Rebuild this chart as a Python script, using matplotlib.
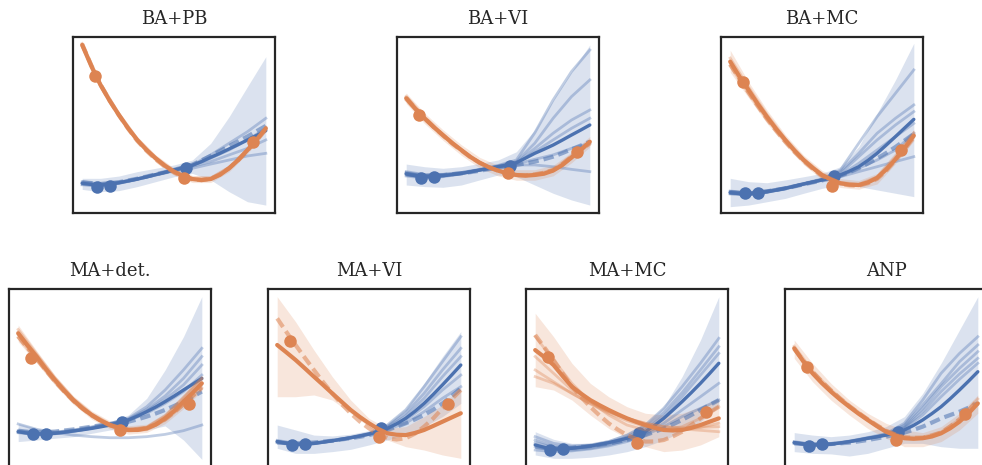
import matplotlib
matplotlib.use('Agg')
import matplotlib.pyplot as plt

plt.rcParams['font.family'] = ['DejaVu Serif']

BLUE = '#4C72B0'
ORANGE = '#DD8452'

# coarse grid for bands / posterior samples, fine grid for means and targets
x_grid = [-1.0, -0.8, -0.6, -0.4, -0.2, 0.0, 0.2, 0.4, 0.6, 0.8, 1.0]
x_fine = [-1.0, -0.9, -0.8, -0.7, -0.6, -0.5, -0.4, -0.3, -0.2, -0.1, 0.0,
          0.1, 0.2, 0.3, 0.4, 0.5, 0.6, 0.7, 0.8, 0.9, 1.0]
ctx_x_blue = [-0.84, -0.70, 0.13]
ctx_x_orange = [-0.86, 0.11, 0.86]

titles = ['BA+PB', 'BA+VI', 'BA+MC', 'MA+det.', 'MA+VI', 'MA+MC', 'ANP']

# --- BA+PB ---
pb_blue_mean = [16.9, 16.2, 15.9, 16.4, 17.2, 18.2, 19.3, 20.5, 21.8, 23.1, 24.4,
                25.7, 27.1, 29.2, 31.6, 33.9, 36.4, 38.9, 41.5, 44.1, 46.8]
pb_blue_dash = [17.5, 17.0, 16.5, 17.0, 17.5, 18.5, 19.5, 20.7, 22.0, 23.2, 24.5,
                26.0, 27.5, 29.9, 32.5, 35.2, 38.0, 40.7, 43.5, 46.5, 49.5]
pb_blue_lo = [13.4, 12.1, 12.7, 15.0, 17.8, 20.6, 22.5, 18.8, 12.1, 6.4, 4.5]
pb_blue_hi = [19.7, 19.7, 21.0, 23.5, 25.4, 27.3, 30.1, 39.6, 54.7, 71.8, 88.8]
pb_blue_samples = [
    [17.8, 16.5, 17.6, 19.6, 22.0, 24.6, 27.3, 33.0, 39.6, 46.2, 53.8],
    [16.2, 15.4, 16.8, 19.0, 21.6, 24.2, 26.9, 31.1, 35.8, 41.5, 48.1],
    [17.2, 16.3, 17.4, 19.4, 21.8, 24.2, 26.5, 29.2, 33.0, 36.7, 41.5],
    [16.0, 15.5, 16.9, 19.1, 21.5, 23.8, 25.4, 27.8, 30.1, 32.4, 33.9],
]
pb_blue_ctx = [15.0, 15.5, 25.4]
pb_orange_mean = [95.5, 83.4, 72.7, 63.7, 55.7, 48.2, 41.5, 35.9, 31.1, 26.9, 23.5,
                  20.9, 19.3, 18.7, 19.3, 21.7, 25.4, 30.1, 35.8, 41.6, 48.1]
pb_orange_dash = [96.0, 83.8, 73.0, 63.8, 55.5, 47.9, 41.0, 35.4, 30.5, 26.4, 23.0,
                  20.6, 19.0, 18.7, 19.5, 21.9, 25.5, 30.1, 35.5, 41.2, 47.5]
pb_orange_lo = [93.5, 70.7, 53.7, 39.5, 29.1, 21.5, 17.3, 17.3, 23.4, 33.8, 46.1]
pb_orange_hi = [97.5, 74.7, 57.7, 43.5, 33.1, 25.5, 21.3, 21.3, 27.4, 37.8, 50.1]
pb_orange_samples = [
    [94.5, 72.0, 55.0, 41.0, 30.8, 23.2, 19.0, 19.0, 25.0, 35.2, 47.5],
    [96.3, 73.4, 56.4, 42.0, 31.5, 24.0, 19.8, 19.8, 25.9, 36.3, 48.8],
]
pb_orange_ctx = [77.8, 19.9, 40.5]

# --- BA+VI ---
vi_blue_mean = [22.2, 21.2, 20.6, 20.8, 21.2, 21.8, 22.5, 23.4, 24.4, 25.3, 26.3,
                27.3, 28.6, 31.2, 33.9, 36.2, 38.6, 41.4, 44.3, 47.1, 50.0]
vi_blue_dash = [22.0, 21.4, 21.0, 21.2, 21.5, 22.0, 22.5, 23.2, 24.0, 24.9, 25.8,
                26.5, 27.3, 28.2, 29.2, 30.5, 32.0, 34.0, 36.2, 38.3, 40.5]
vi_blue_lo = [15.9, 15.0, 14.6, 15.9, 18.8, 21.6, 20.6, 15.9, 11.2, 7.4, 4.5]
vi_blue_hi = [27.8, 26.3, 25.4, 26.3, 28.2, 30.1, 34.8, 47.2, 64.2, 80.3, 95.5]
vi_blue_samples = [
    [23.5, 21.8, 22.0, 23.0, 24.8, 27.0, 30.1, 45.5, 64.2, 80.3, 92.6],
    [21.0, 19.8, 20.6, 22.2, 24.4, 26.8, 29.2, 39.6, 53.8, 66.1, 75.6],
    [22.8, 21.0, 21.4, 22.6, 24.5, 26.5, 28.6, 36.7, 45.3, 52.8, 58.5],
    [21.6, 20.4, 21.0, 22.4, 24.2, 26.2, 28.2, 34.8, 41.5, 48.1, 53.8],
    [22.5, 20.9, 21.3, 22.5, 24.3, 26.0, 27.8, 30.5, 33.0, 36.7, 39.6],
    [23.0, 21.5, 21.8, 23.0, 24.6, 26.0, 27.3, 27.3, 26.3, 24.8, 23.5],
]
vi_blue_ctx = [20.1, 20.6, 26.9]
vi_orange_mean = [65.2, 59.2, 53.8, 48.8, 44.3, 39.8, 35.8, 31.8, 28.6, 26.0, 24.1,
                  22.5, 21.6, 21.2, 21.6, 22.3, 24.1, 27.2, 31.5, 35.8, 40.5]
vi_orange_dash = [65.5, 59.4, 54.0, 48.8, 44.0, 39.5, 35.5, 31.7, 28.5, 26.0, 24.0,
                  22.5, 21.5, 21.4, 22.0, 22.9, 24.5, 27.8, 32.0, 35.7, 39.5]
vi_orange_lo = [62.2, 50.8, 41.3, 32.8, 25.6, 21.1, 18.6, 18.6, 21.1, 28.5, 37.5]
vi_orange_hi = [68.2, 56.8, 47.3, 38.8, 31.6, 27.1, 24.6, 24.6, 27.1, 34.5, 43.5]
vi_orange_samples = [
    [64.0, 53.0, 43.8, 35.5, 28.6, 24.3, 22.0, 22.0, 24.5, 32.5, 40.5],
    [66.3, 54.6, 44.8, 36.1, 28.7, 24.0, 21.3, 21.3, 23.8, 31.0, 39.3],
]
vi_orange_ctx = [55.7, 22.9, 34.8]

# --- BA+MC ---
mc_blue_mean = [11.6, 11.0, 10.8, 11.4, 12.1, 13.0, 14.0, 15.2, 16.5, 17.6, 18.8,
                20.1, 21.6, 23.8, 26.3, 29.9, 33.9, 38.6, 43.4, 48.3, 53.2]
mc_blue_dash = [11.8, 11.4, 11.2, 11.7, 12.3, 13.1, 14.0, 15.1, 16.3, 17.4, 18.5,
                19.8, 21.2, 23.2, 25.5, 28.1, 31.0, 34.1, 37.5, 41.2, 45.0]
mc_blue_lo = [3.6, 4.5, 6.4, 8.3, 11.2, 14.0, 15.9, 15.0, 13.1, 11.2, 9.3]
mc_blue_hi = [19.7, 17.8, 17.2, 18.8, 20.6, 22.5, 26.3, 37.7, 56.6, 75.6, 96.4]
mc_blue_samples = [
    [12.5, 11.5, 12.6, 14.4, 16.8, 19.4, 24.4, 39.6, 54.7, 68.0, 81.3],
    [10.8, 10.2, 11.7, 13.8, 16.4, 19.1, 23.5, 33.9, 45.3, 53.8, 61.4],
    [12.0, 11.2, 12.4, 14.2, 16.6, 19.0, 22.5, 32.0, 41.5, 50.0, 57.6],
    [11.2, 10.6, 11.9, 13.9, 16.4, 18.7, 21.6, 28.2, 35.8, 43.4, 50.9],
    [12.2, 11.3, 12.5, 14.3, 16.6, 18.8, 21.0, 25.4, 30.1, 35.8, 45.3],
    [11.0, 10.5, 11.8, 13.7, 16.1, 18.5, 20.6, 23.5, 26.3, 29.2, 32.0],
]
mc_blue_ctx = [11.2, 11.6, 21.0]
mc_orange_mean = [86.0, 77.6, 69.9, 62.0, 54.7, 47.8, 41.5, 35.5, 30.1, 25.6, 21.6,
                  19.0, 16.9, 16.1, 15.9, 17.4, 20.0, 24.8, 30.5, 37.0, 44.0]
mc_orange_dash = [84.5, 76.3, 68.5, 60.8, 53.5, 46.8, 40.5, 34.7, 29.5, 25.0, 21.0,
                  18.5, 16.5, 15.7, 15.5, 16.9, 19.4, 24.0, 30.0, 36.2, 43.0]
mc_orange_lo = [80.0, 65.5, 51.0, 38.5, 27.5, 19.0, 14.5, 13.5, 16.5, 28.0, 41.0]
mc_orange_hi = [92.5, 74.5, 58.5, 44.5, 32.8, 24.2, 19.5, 18.5, 22.5, 34.5, 47.5]
mc_orange_samples = [
    [88.0, 71.5, 56.0, 42.3, 30.8, 22.2, 17.4, 16.4, 20.5, 32.0, 45.6],
    [83.5, 68.0, 53.3, 40.5, 29.4, 21.1, 16.5, 15.5, 19.4, 30.3, 43.2],
]
mc_orange_ctx = [74.6, 15.5, 35.8]

# --- MA+det. ---
md_blue_mean = [18.9, 18.1, 17.6, 17.7, 18.0, 18.6, 19.3, 20.0, 20.8, 21.7, 22.7,
                24.0, 25.6, 27.8, 30.3, 33.0, 36.0, 39.2, 42.6, 45.9, 49.2]
md_blue_dash = [19.5, 18.9, 18.5, 18.7, 19.0, 19.6, 20.2, 21.0, 21.8, 22.6, 23.3,
                23.9, 24.6, 25.9, 27.5, 29.3, 31.3, 33.6, 36.0, 38.8, 41.7]
md_blue_lo = [13.3, 14.2, 15.2, 16.1, 18.0, 19.9, 20.8, 19.9, 22.2, 14.2, 3.2]
md_blue_hi = [23.7, 20.8, 19.9, 20.8, 22.7, 24.6, 28.4, 37.9, 54.0, 72.9, 95.6]
md_blue_samples = [
    [23.3, 20.3, 18.4, 17.0, 16.1, 15.5, 15.5, 16.1, 17.4, 19.5, 22.7],
    [19.5, 18.2, 18.6, 19.9, 21.6, 23.6, 26.5, 33.1, 42.6, 54.0, 66.3],
    [18.3, 17.2, 17.7, 19.1, 20.9, 23.1, 26.1, 31.6, 39.2, 49.2, 61.6],
    [19.2, 17.9, 18.3, 19.6, 21.3, 23.3, 25.6, 30.9, 37.3, 45.5, 56.8],
    [18.6, 17.4, 17.9, 19.2, 20.9, 22.9, 25.2, 29.4, 35.0, 41.7, 51.1],
]
md_blue_ctx = [17.4, 17.6, 24.6]
md_orange_mean = [74.8, 68.0, 61.6, 54.6, 48.3, 42.3, 36.9, 32.2, 28.4, 25.2, 22.7,
                  20.9, 19.9, 19.9, 20.8, 23.0, 26.5, 30.7, 36.0, 41.0, 46.4]
md_orange_dash = [73.0, 66.6, 60.5, 53.9, 47.5, 41.8, 36.5, 32.1, 28.2, 25.1, 22.5,
                  20.9, 20.0, 20.1, 21.0, 23.1, 26.0, 29.9, 34.5, 39.1, 44.0]
md_orange_lo = [70.0, 58.0, 45.5, 34.5, 26.0, 20.5, 17.5, 18.5, 23.5, 32.0, 42.0]
md_orange_hi = [79.5, 65.0, 51.0, 39.3, 30.8, 25.0, 22.3, 23.2, 29.5, 40.0, 50.5]
md_orange_samples = [
    [77.0, 63.2, 49.6, 37.8, 29.1, 23.3, 20.4, 21.4, 27.5, 37.8, 48.8],
    [72.5, 59.8, 47.0, 36.0, 27.7, 22.1, 19.3, 20.0, 25.3, 34.0, 43.8],
    [75.5, 62.5, 49.0, 37.4, 28.8, 23.0, 20.3, 21.5, 28.0, 38.5, 49.5],
]
md_orange_ctx = [60.6, 19.9, 34.7]

# --- MA+VI ---
mv_blue_mean = [13.3, 12.3, 11.7, 11.9, 12.3, 13.0, 13.8, 14.6, 15.5, 16.5, 17.6,
                19.0, 20.8, 23.4, 26.5, 30.5, 35.0, 40.1, 45.5, 51.1, 56.8]
mv_blue_dash = [12.8, 12.5, 12.3, 12.5, 12.8, 13.3, 13.8, 14.5, 15.2, 16.0, 17.0,
                18.3, 19.9, 21.7, 23.7, 25.9, 28.4, 31.5, 35.0, 39.1, 43.6]
mv_blue_lo = [9.5, 6.6, 6.6, 7.6, 8.9, 11.4, 14.2, 17.0, 21.8, 27.5, 35.0]
mv_blue_hi = [22.7, 19.9, 17.0, 16.5, 17.5, 19.5, 23.5, 32.0, 46.4, 61.6, 75.8]
mv_blue_samples = [
    [14.0, 12.2, 12.6, 14.0, 15.8, 18.0, 22.7, 31.3, 44.5, 58.7, 72.9],
    [12.6, 11.3, 12.0, 13.6, 15.4, 17.6, 21.8, 29.4, 40.7, 54.0, 66.3],
    [13.6, 11.9, 12.4, 13.9, 15.6, 17.7, 21.4, 27.8, 37.9, 50.2, 61.6],
    [12.9, 11.5, 12.1, 13.6, 15.3, 17.4, 20.8, 25.6, 33.1, 42.6, 51.1],
    [13.2, 11.8, 12.3, 13.7, 15.4, 17.2, 20.3, 23.7, 30.3, 37.9, 44.5],
]
mv_blue_ctx = [11.4, 11.9, 20.8]
mv_orange_mean = [68.2, 64.0, 59.7, 55.0, 50.2, 45.5, 40.7, 36.0, 31.3, 27.3, 23.7,
                  20.5, 18.0, 17.2, 17.0, 18.2, 19.9, 22.2, 24.6, 27.0, 29.4]
mv_orange_dash = [83.3, 75.6, 68.2, 61.0, 54.0, 47.1, 40.7, 34.7, 29.4, 24.7, 20.8,
                  17.6, 15.2, 14.5, 15.2, 17.8, 21.8, 26.5, 32.2, 37.4, 42.6]
mv_orange_lo = [38.8, 38.8, 39.8, 36.9, 29.4, 21.8, 14.2, 10.4, 8.5, 5.7, 3.8]
mv_orange_hi = [95.6, 81.4, 65.3, 50.2, 36.9, 26.5, 20.8, 21.8, 27.5, 34.1, 44.0]
mv_orange_samples = []
mv_orange_ctx = [70.6, 15.7, 34.7]

# --- MA+MC ---
mm_blue_mean = [11.4, 10.0, 9.1, 9.2, 9.5, 10.1, 10.8, 11.7, 12.7, 13.9, 15.2,
                16.8, 18.9, 22.5, 26.5, 31.2, 36.0, 41.1, 46.4, 52.0, 57.8]
mm_blue_dash = [10.4, 9.7, 9.3, 9.5, 9.8, 10.3, 10.8, 11.5, 12.3, 13.2, 14.2,
                15.5, 17.0, 18.8, 20.8, 23.1, 25.6, 28.4, 31.3, 34.1, 36.9]
mm_blue_lo = [5.7, 3.8, 3.8, 4.4, 5.7, 7.6, 10.4, 14.2, 18.9, 24.6, 33.1]
mm_blue_hi = [18.9, 14.6, 12.3, 12.3, 14.5, 18.0, 23.5, 33.1, 50.2, 71.0, 95.6]
mm_blue_samples = [
    [16.1, 12.3, 10.8, 11.4, 13.3, 17.0, 22.7, 32.2, 44.5, 57.8, 72.0],
    [14.2, 10.8, 10.0, 10.8, 12.7, 15.9, 21.2, 29.7, 41.1, 54.0, 67.2],
    [12.7, 10.0, 9.5, 10.4, 12.3, 15.2, 19.9, 27.8, 38.8, 51.1, 63.4],
    [10.4, 8.5, 8.5, 9.5, 11.4, 14.2, 18.0, 23.7, 31.3, 38.8, 46.4],
    [8.5, 7.6, 8.0, 9.1, 10.8, 13.3, 17.0, 21.8, 27.5, 32.2, 36.9],
]
mm_blue_ctx = [8.5, 9.1, 18.4]
mm_orange_mean = [65.3, 61.3, 56.8, 50.5, 44.5, 40.5, 36.9, 34.0, 31.3, 28.8, 26.5,
                  24.5, 22.7, 21.2, 19.9, 19.6, 19.9, 21.1, 22.7, 24.6, 26.5]
mm_orange_dash = [73.9, 66.8, 59.7, 52.0, 44.5, 38.6, 33.1, 28.2, 23.7, 20.1, 17.0,
                  14.8, 13.3, 13.4, 14.2, 16.3, 18.9, 22.6, 26.5, 29.9, 33.1]
mm_orange_lo = [44.5, 42.6, 36.9, 28.4, 20.8, 15.2, 10.4, 7.6, 8.5, 11.4, 16.1]
mm_orange_hi = [86.2, 72.9, 57.8, 46.4, 38.8, 33.1, 29.4, 28.4, 29.4, 33.1, 37.9]
mm_orange_samples = [
    [73.0, 59.7, 46.4, 36.0, 28.4, 22.7, 19.9, 19.9, 21.8, 26.5, 33.1],
    [61.6, 52.1, 42.6, 36.0, 30.3, 26.5, 23.7, 21.8, 21.2, 21.4, 21.8],
    [54.0, 47.3, 40.7, 35.0, 30.3, 26.5, 23.7, 21.8, 20.5, 19.7, 18.9],
    [50.2, 46.4, 40.7, 34.7, 29.4, 25.2, 21.8, 19.9, 19.9, 21.4, 23.7],
]
mm_orange_ctx = [61.2, 12.7, 29.9]

# --- ANP ---
an_blue_mean = [12.7, 11.9, 11.4, 11.6, 11.9, 12.5, 13.3, 14.2, 15.2, 16.0, 17.0,
                18.3, 19.9, 22.5, 25.6, 29.2, 33.1, 37.7, 42.6, 47.7, 53.0]
an_blue_dash = [12.3, 11.9, 11.7, 11.8, 11.9, 12.3, 12.7, 13.4, 14.2, 15.1, 16.1,
                17.2, 18.4, 20.0, 21.8, 24.1, 26.5, 28.4, 30.3, 32.6, 35.0]
an_blue_lo = [7.6, 6.6, 6.3, 5.1, 6.6, 9.5, 12.3, 12.3, 10.4, 9.5, 9.5]
an_blue_hi = [18.4, 17.0, 16.1, 17.0, 18.9, 21.8, 27.5, 40.7, 57.8, 76.7, 95.6]
an_blue_samples = [
    [13.3, 11.8, 12.2, 13.6, 15.6, 17.8, 23.7, 36.9, 52.1, 63.4, 72.9],
    [12.2, 11.0, 11.6, 13.0, 14.9, 17.2, 22.7, 34.1, 46.2, 58.7, 68.2],
    [13.0, 11.6, 12.0, 13.4, 15.3, 17.4, 21.8, 32.2, 44.5, 54.9, 64.4],
    [12.4, 11.2, 11.7, 13.1, 15.0, 17.0, 21.2, 30.3, 41.7, 51.7, 60.6],
    [12.9, 11.5, 11.9, 13.2, 15.1, 16.9, 20.8, 28.4, 38.8, 48.7, 57.8],
]
an_blue_ctx = [10.8, 11.7, 18.9]
an_orange_mean = [66.3, 58.8, 52.1, 46.6, 41.7, 37.2, 33.1, 29.2, 25.6, 22.1, 18.9,
                  16.8, 15.2, 14.9, 15.2, 16.2, 18.0, 20.9, 24.6, 29.4, 35.0]
an_orange_dash = [66.0, 59.2, 53.0, 47.5, 42.5, 37.8, 33.5, 29.6, 26.0, 22.6, 19.5,
                  17.4, 15.8, 15.4, 15.5, 16.7, 18.5, 21.9, 26.0, 31.2, 37.0]
an_orange_lo = [60.6, 47.3, 36.9, 28.4, 20.8, 15.2, 10.4, 10.4, 13.3, 19.9, 29.4]
an_orange_hi = [71.0, 57.8, 46.4, 36.9, 29.4, 23.7, 19.9, 18.4, 21.8, 29.4, 39.8]
an_orange_samples = [
    [67.5, 53.5, 42.8, 34.0, 26.3, 19.6, 15.9, 15.9, 18.8, 26.0, 37.5],
]
an_orange_ctx = [55.5, 14.2, 29.0]

panels = [
    (pb_blue_mean, pb_blue_dash, pb_blue_lo, pb_blue_hi, pb_blue_samples, pb_blue_ctx,
     pb_orange_mean, pb_orange_dash, pb_orange_lo, pb_orange_hi, pb_orange_samples, pb_orange_ctx),
    (vi_blue_mean, vi_blue_dash, vi_blue_lo, vi_blue_hi, vi_blue_samples, vi_blue_ctx,
     vi_orange_mean, vi_orange_dash, vi_orange_lo, vi_orange_hi, vi_orange_samples, vi_orange_ctx),
    (mc_blue_mean, mc_blue_dash, mc_blue_lo, mc_blue_hi, mc_blue_samples, mc_blue_ctx,
     mc_orange_mean, mc_orange_dash, mc_orange_lo, mc_orange_hi, mc_orange_samples, mc_orange_ctx),
    (md_blue_mean, md_blue_dash, md_blue_lo, md_blue_hi, md_blue_samples, md_blue_ctx,
     md_orange_mean, md_orange_dash, md_orange_lo, md_orange_hi, md_orange_samples, md_orange_ctx),
    (mv_blue_mean, mv_blue_dash, mv_blue_lo, mv_blue_hi, mv_blue_samples, mv_blue_ctx,
     mv_orange_mean, mv_orange_dash, mv_orange_lo, mv_orange_hi, mv_orange_samples, mv_orange_ctx),
    (mm_blue_mean, mm_blue_dash, mm_blue_lo, mm_blue_hi, mm_blue_samples, mm_blue_ctx,
     mm_orange_mean, mm_orange_dash, mm_orange_lo, mm_orange_hi, mm_orange_samples, mm_orange_ctx),
    (an_blue_mean, an_blue_dash, an_blue_lo, an_blue_hi, an_blue_samples, an_blue_ctx,
     an_orange_mean, an_orange_dash, an_orange_lo, an_orange_hi, an_orange_samples, an_orange_ctx),
]

W, H = 982, 465
# axes boxes in pixels: (left, top); the lower row runs past the bottom edge
boxes = [(73, 37), (397, 37), (721, 37), (9, 289), (268, 289), (526, 289), (785, 289)]
AX_W, AX_H = 202, 176
EXTRA = 3  # px the lower row hangs below the canvas

fig = plt.figure(figsize=(W / 100, H / 100), dpi=100)


def draw_fn(ax, color, mean, dash, lo, hi, samples, ctx_x, ctx_y, lw_mean):
    ax.fill_between(x_grid, lo, hi, color=color, alpha=0.2, lw=0)
    for s in samples:
        ax.plot(x_grid, s, color=color, lw=2, alpha=0.35, solid_joinstyle='round')
    ax.plot(x_fine, dash, color=color, lw=3, alpha=0.55, linestyle=(0, (2.5, 1.2)))
    ax.plot(x_fine, mean, color=color, lw=lw_mean, solid_capstyle='round',
            solid_joinstyle='round')
    ax.plot(ctx_x, ctx_y, 'o', color=color, ms=9, mew=0)


for i, ((left, top), title, p) in enumerate(zip(boxes, titles, panels)):
    lower = i >= 3
    h = AX_H + (EXTRA if lower else 0)
    ax = fig.add_axes([left / W, (H - top - h) / H, AX_W / W, h / H])
    draw_fn(ax, BLUE, *p[:6][:5], ctx_x_blue, p[5], 2.4)
    draw_fn(ax, ORANGE, *p[6:11], ctx_x_orange, p[11], 3.0)
    ax.set_xlim(-1.1, 1.1)
    ax.set_ylim(-100 * (h - AX_H) / AX_H, 100)
    ax.set_xticks([])
    ax.set_yticks([])
    for sp in ax.spines.values():
        sp.set_color('#262626')
        sp.set_linewidth(1.6)
    ax.set_title(title, fontsize=13, color='#262626', pad=9)

fig.savefig('out.png', dpi=100)
